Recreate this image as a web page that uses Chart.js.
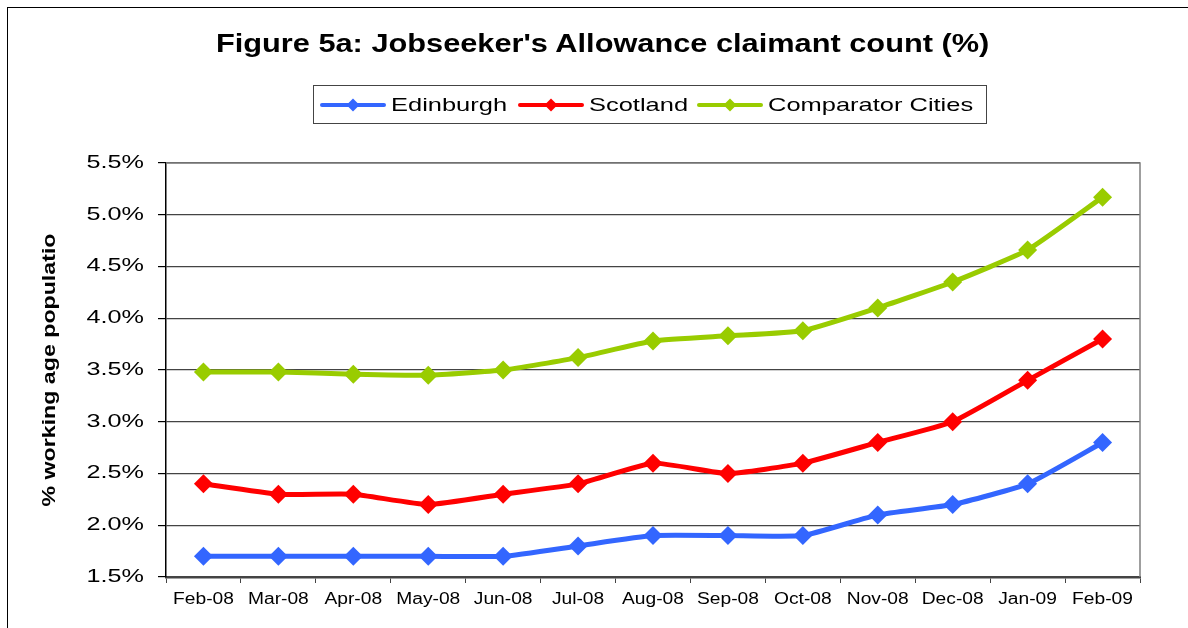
<!DOCTYPE html>
<html>
<head>
<meta charset="utf-8">
<script src="https://cdn.jsdelivr.net/npm/chart.js@4.4.0/dist/chart.umd.min.js"></script>
<style>
  html, body { margin: 0; padding: 0; background: #fff; }
  body { width: 1188px; height: 628px; position: relative; overflow: hidden; font-family: Arial, "Liberation Sans", sans-serif; }
  #frame { position: absolute; left: 7px; top: 7px; width: 1300px; height: 700px; border-left: 1.5px solid #000; border-top: 1.5px solid #000; }
  #title { position: absolute; left: 0; width: 1205px; top: 29px; text-align: center; font-weight: bold; font-size: 25px; color: #000; transform: scaleX(1.23); transform-origin: 602px 0; }
  #legend { position: absolute; left: 313px; top: 85px; width: 672px; height: 37px; border: 1px solid #444; font-size: 19px; color: #000; }
  #legend .item { position: absolute; top: 0; height: 37px; display: flex; align-items: center; white-space: nowrap; }
  #legend .item span { display: inline-block; margin-left: 5px; transform: scaleX(1.34); transform-origin: 0 50%; }
  #wrap { position: absolute; left: 0; top: 0; width: 1188px; height: 628px; }
</style>
</head>
<body>
<div id="frame"></div>
<div id="wrap"><canvas id="myChart" width="1188" height="628"></canvas></div>
<div id="title">Figure 5a: Jobseeker's Allowance claimant count (%)</div>
<div id="legend"></div>
<script>
// mesi (asse x)
const months = ['Feb-08', 'Mar-08', 'Apr-08', 'May-08', 'Jun-08', 'Jul-08', 'Aug-08',
    'Sep-08', 'Oct-08', 'Nov-08', 'Dec-08', 'Jan-09', 'Feb-09'];
// valori (%)
const edinburgh = [1.7, 1.7, 1.7, 1.7, 1.7, 1.8, 1.9, 1.9, 1.9, 2.1, 2.2, 2.4, 2.8];
const scotland = [2.4, 2.3, 2.3, 2.2, 2.3, 2.4, 2.6, 2.5, 2.6, 2.8, 3.0, 3.4, 3.8];
const comparator = [3.48, 3.48, 3.46, 3.45, 3.5, 3.62, 3.78, 3.83, 3.88, 4.1, 4.35, 4.66, 5.17];
const seriesNames = ['Edinburgh', 'Scotland', 'Comparator Cities'];
const seriesColors = ['#3366FF', '#FF0000', '#99CC00'];

// legenda html
const legend = document.getElementById('legend');
const legendLeft = [6, 204, 383];
seriesNames.forEach((name, i) => {
    const c = seriesColors[i];
    const item = document.createElement('div');
    item.className = 'item';
    item.style.left = legendLeft[i] + 'px';
    item.innerHTML = '<svg width="66" height="16"><line x1="2" y1="8" x2="64" y2="8" stroke="' + c +
        '" stroke-width="4" stroke-linecap="round"/><polygon points="33,1.5 39.5,8 33,14.5 26.5,8" fill="' + c + '"/></svg>' +
        '<span>' + name + '</span>';
    legend.appendChild(item);
});

// bordo grigio area grafico
const plotBorder = {
    id: 'plotBorder',
    beforeDatasetsDraw(chart) {
        const a = chart.chartArea;
        const ctx = chart.ctx;
        ctx.save();
        ctx.strokeStyle = '#808080';
        ctx.lineWidth = 1.5;
        ctx.beginPath();
        ctx.moveTo(a.left, a.top);
        ctx.lineTo(a.right, a.top);
        ctx.lineTo(a.right, a.bottom);
        ctx.stroke();
        ctx.restore();
    }
};

// testo allargato in orizzontale come nell'originale
const stretchText = {
    id: 'stretchText',
    beforeDraw(chart) {
        const c = chart.ctx;
        if (c._stretched) return;
        const orig = c.fillText.bind(c);
        c.fillText = function (text, x, y) {
            let sx = 1.2;
            if (c.font.indexOf('bold') >= 0) sx = 1.22;
            else if (c.font.indexOf('18px') >= 0) sx = 1.4;
            c.save();
            c.translate(x, y);
            c.scale(sx, 1);
            orig(text, 0, 0);
            c.restore();
        };
        c._stretched = true;
    }
};

const data = [edinburgh, scotland, comparator];
const ctx = document.getElementById('myChart').getContext('2d');
const chart = new Chart(ctx, {
    type: 'line',
    data: {
        labels: months,
        datasets: data.map((d, i) => ({
            label: seriesNames[i],
            data: d,
            borderColor: seriesColors[i],
            backgroundColor: seriesColors[i],
            pointBackgroundColor: seriesColors[i],
            pointBorderColor: seriesColors[i],
            borderWidth: 5,
            pointStyle: 'rectRot',
            pointRadius: 9.5,
            pointBorderWidth: 0,
            tension: 0.15,
        })).reverse()
    },
    options: {
        responsive: false,
        animation: false,
        layout: { padding: { left: 0, top: 163, right: 48, bottom: 0 } },
        scales: {
            x: {
                offset: true,
                grid: {
                    drawOnChartArea: false,
                    drawTicks: true,
                    tickLength: 6,
                    tickColor: '#444',
                    offset: true,
                },
                border: { color: '#444', width: 2.5 },
                ticks: {
                    color: '#000',
                    font: { family: 'Arial', size: 16 },
                    padding: 7,
                    maxRotation: 0,
                    autoSkip: false,
                },
                afterFit(scale) { scale.height = 51; },
            },
            y: {
                min: 1.5,
                max: 5.5,
                ticks: {
                    stepSize: 0.5,
                    color: '#000',
                    font: { family: 'Arial', size: 18 },
                    padding: 14,
                    callback: (v) => v.toFixed(1) + '%',
                },
                grid: {
                    color: '#444',
                    lineWidth: 1.2,
                    tickLength: 8,
                    tickColor: '#000',
                },
                border: { color: '#000', width: 1.5 },
                title: {
                    display: true,
                    text: '% working age populatio',
                    color: '#000',
                    font: { family: 'Arial', size: 19, weight: 'bold' },
                    padding: { top: 38, bottom: 0 },
                },
                afterFit(scale) { scale.width = 166; },
            },
        },
        plugins: {
            legend: { display: false },
            tooltip: { enabled: false },
        },
    },
    plugins: [plotBorder, stretchText],
});
</script>
</body>
</html>
